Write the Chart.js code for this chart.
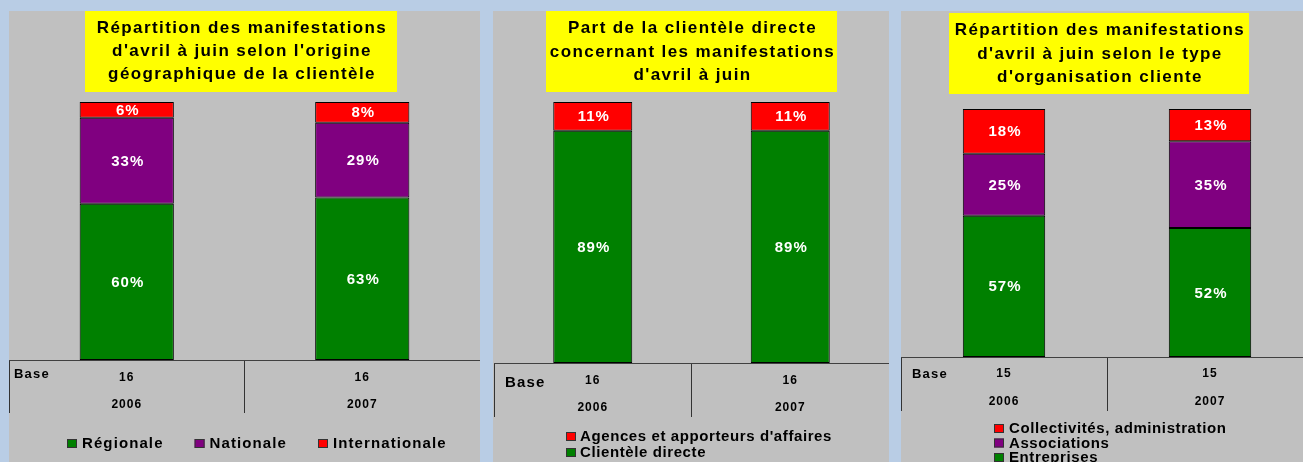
<!DOCTYPE html>
<html lang="fr">
<head>
<meta charset="utf-8">
<script src="https://cdn.jsdelivr.net/npm/chart.js@4.4.0/dist/chart.umd.min.js"></script>
<style>
  html, body { margin: 0; padding: 0; width: 1303px; height: 462px; overflow: hidden; background: #b9cde5; }
  .panel { position: absolute; top: 11px; height: 451px; background: #c0c0c0; overflow: hidden; }
  canvas { display: block; }
</style>
</head>
<body>
<div class="panel" style="left:9px;width:471px"><canvas id="c1" width="471" height="451"></canvas></div>
<div class="panel" style="left:493px;width:396px"><canvas id="c2" width="396" height="451"></canvas></div>
<div class="panel" style="left:901px;width:412px"><canvas id="c3" width="412" height="451"></canvas></div>
<script>
const years = ['2006', '2007'];

// 1 - origine géographique de la clientèle
const base1 = [16, 16];
const regionale = [60, 63];
const nationale = [33, 29];
const internationale = [6, 8];

// 2 - part de la clientèle directe
const base2 = [16, 16];
const clienteleDirecte = [89, 89];
const agences = [11, 11];

// 3 - type d'organisation cliente
const base3 = [15, 15];
const entreprises = [57, 52];
const associations = [25, 35];
const collectivites = [18, 13];

const GREEN = '#008000', PURPLE = '#800080', RED = '#ff0000';
const FONT = '"Liberation Sans", Arial, sans-serif';

// 100% empilé : chaque barre ramenée au total de sa colonne
function toPct(list) {
  const totals = list[0].map((_, i) => list.reduce((s, a) => s + a[i], 0));
  return list.map(a => a.map((v, i) => v / totals[i] * 100));
}

// titre jaune, "Base", étiquettes blanches, légende
const decor = {
  id: 'decor',
  beforeDraw(chart, args, o) {
    const ctx = chart.ctx;
    ctx.save();
    const b = o.titleBox;
    ctx.fillStyle = '#ffff00';
    ctx.fillRect(b.x, b.y, b.w, b.h);
    ctx.fillStyle = '#000';
    ctx.font = 'bold 17px ' + FONT;
    ctx.letterSpacing = '1.4px';
    ctx.textAlign = 'center';
    ctx.textBaseline = 'alphabetic';
    o.title.forEach((t, i) => ctx.fillText(t, b.x + b.w / 2 + 1, o.titleY[i]));
    ctx.restore();
    ctx.letterSpacing = '1px'; // pour les graduations
  },
  afterDatasetsDraw(chart) {
    const ctx = chart.ctx;
    ctx.save();
    ctx.font = 'bold 15px ' + FONT;
    ctx.letterSpacing = '1px';
    ctx.fillStyle = '#fff';
    ctx.textAlign = 'center';
    ctx.textBaseline = 'middle';
    chart.data.datasets.forEach((ds, di) => {
      chart.getDatasetMeta(di).data.forEach((el, i) => {
        const p = el.getProps(['x', 'y', 'base'], true);
        ctx.fillText(ds.raw[i] + '%', p.x + 1, (p.y + p.base) / 2 + 1);
      });
    });
    ctx.restore();
  },
  afterDraw(chart, args, o) {
    const ctx = chart.ctx;
    ctx.save();
    ctx.fillStyle = '#000';
    ctx.textBaseline = 'middle';
    ctx.textAlign = 'left';
    ctx.font = 'bold ' + o.baseLabel.size + 'px ' + FONT;
    ctx.letterSpacing = '1.2px';
    ctx.fillText('Base', o.baseLabel.x, o.baseLabel.y);

    const L = o.legend;
    ctx.font = 'bold 15px ' + FONT;
    ctx.letterSpacing = L.spacing + 'px';
    let x = L.x, y = L.y;
    L.order.forEach(di => {
      const ds = chart.data.datasets[di];
      ctx.fillStyle = ds.backgroundColor;
      ctx.fillRect(x, y - 4, 10, 9);
      ctx.strokeStyle = '#333';
      ctx.lineWidth = 1;
      ctx.strokeRect(x + 0.5, y - 3.5, 9, 8);
      ctx.fillStyle = '#000';
      ctx.fillText(ds.label, x + L.dx, y + 1);
      if (L.row) x += L.dx + ctx.measureText(ds.label).width + L.gap;
      else y += L.lineH;
    });
    ctx.restore();
  }
};

function build(id, base, series, names, colors, g, look) {
  const pct = toPct(series);
  const datasets = series.map((vals, i) => ({
    label: names[i],
    data: pct[i],
    raw: vals,
    backgroundColor: colors[i],
    borderColor: '#000',
    borderWidth: 1,
    borderSkipped: false,
    categoryPercentage: 1,
    barPercentage: 0.4
  }));
  return new Chart(document.getElementById(id), {
    type: 'bar',
    data: { labels: years.map((y, i) => [String(base[i]), y]), datasets },
    options: {
      responsive: false,
      animation: false,
      layout: { padding: { top: g.top, left: g.left, right: 0, bottom: 451 - g.bottom - g.table } },
      scales: {
        x: {
          stacked: true,
          offset: true,
          grid: { offset: true, drawOnChartArea: false, drawTicks: true, tickLength: g.table, color: '#333', lineWidth: 1 },
          border: { display: true, color: '#404040', width: 1 },
          ticks: {
            color: '#000',
            maxRotation: 0,
            autoSkip: false,
            padding: g.line1 - g.bottom - g.table - g.lh / 2,
            font: { family: FONT, weight: 'bold', size: 12, lineHeight: g.lh + 'px' }
          },
          afterFit: s => { s.height = g.table; }
        },
        y: { stacked: true, display: false, min: 0, max: 100 }
      },
      plugins: {
        legend: { display: false },
        tooltip: { enabled: false },
        title: { display: false },
        decor: look
      }
    },
    plugins: [decor]
  });
}

build('c1', base1, [regionale, nationale, internationale],
  ['Régionale', 'Nationale', 'Internationale'], [GREEN, PURPLE, RED],
  { top: 91, bottom: 349, table: 53, left: 0, line1: 367, lh: 27 },
  {
    titleBox: { x: 76, y: 0, w: 312, h: 81 },
    title: ['Répartition des manifestations', "d'avril à juin selon l'origine", 'géographique de la clientèle'],
    titleY: [22, 45, 68],
    baseLabel: { x: 5, y: 363, size: 13 },
    legend: { row: true, x: 58, y: 432, dx: 15, gap: 31, spacing: 1.1, order: [0, 1, 2] }
  });

build('c2', base2, [clienteleDirecte, agences],
  ['Clientèle directe', "Agences et apporteurs d'affaires"], [GREEN, RED],
  { top: 91, bottom: 352, table: 54, left: 1, line1: 370, lh: 27 },
  {
    titleBox: { x: 53, y: 0, w: 291, h: 81 },
    title: ['Part de la clientèle directe', 'concernant les manifestations', "d'avril à juin"],
    titleY: [22, 46, 69],
    baseLabel: { x: 12, y: 372, size: 15 },
    legend: { row: false, x: 73, y: 425, dx: 14, lineH: 16, spacing: 0.6, order: [1, 0] }
  });

build('c3', base3, [entreprises, associations, collectivites],
  ['Entreprises', 'Associations', 'Collectivités, administration'], [GREEN, PURPLE, RED],
  { top: 98, bottom: 346, table: 54, left: 0, line1: 363, lh: 28 },
  {
    titleBox: { x: 48, y: 2, w: 300, h: 81 },
    title: ['Répartition des manifestations', "d'avril à juin selon le type", "d'organisation cliente"],
    titleY: [24, 48, 71],
    baseLabel: { x: 11, y: 363, size: 13 },
    legend: { row: false, x: 93, y: 417, dx: 15, lineH: 14.5, spacing: 0.6, order: [2, 1, 0] }
  });
</script>
</body>
</html>
